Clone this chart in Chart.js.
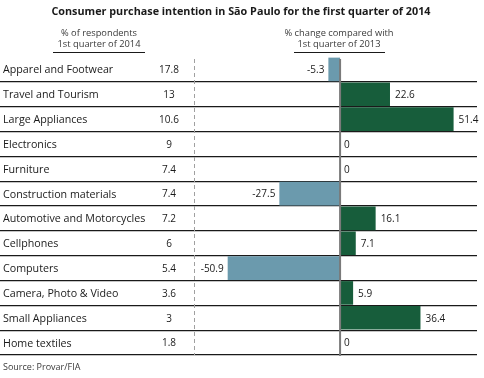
<!DOCTYPE html>
<html>
<head>
<meta charset="utf-8">
<script src="https://cdn.jsdelivr.net/npm/chart.js@4"></script>
<style>
html,body{margin:0;padding:0;background:#fff;}
#wrap{position:relative;width:484px;height:378px;}
</style>
</head>
<body>
<div id="wrap"><canvas id="c" width="484" height="378"></canvas></div>
<script>
const title = "Consumer purchase intention in São Paulo for the first quarter of 2014";
const leftHeader = ["% of respondents", "1st quarter of 2014"];
const rightHeader = ["% change compared with", "1st quarter of 2013"];
const source = "Source: Provar/FIA";
const categories = ["Apparel and Footwear","Travel and Tourism","Large Appliances","Electronics","Furniture","Construction materials","Automotive and Motorcycles","Cellphones","Computers","Camera, Photo & Video","Small Appliances","Home textiles"];
const respondents = ["17.8","13","10.6","9","7.4","7.4","7.2","6","5.4","3.6","3","1.8"];
const changes = [-5.3,22.6,51.4,0,0,-27.5,16.1,7.1,-50.9,5.9,36.4,0];
const dashedAt = -66;

const GREEN = "#175d3b", BLUE = "#6b9aad";
const FONT = "'Open Sans', sans-serif";

const overlay = {
  id: 'overlay',
  beforeDatasetsDraw(chart) {
    const ctx = chart.ctx, x = chart.scales.x, a = chart.chartArea;
    ctx.save();
    ctx.strokeStyle = '#a0a0a0';
    ctx.lineWidth = 1;
    ctx.setLineDash([4,3]);
    const dx = Math.round(x.getPixelForValue(dashedAt)) + 0.5;
    ctx.beginPath(); ctx.moveTo(dx, a.top + 2); ctx.lineTo(dx, a.bottom); ctx.stroke();
    ctx.restore();
  },
  afterDatasetsDraw(chart) {
    const ctx = chart.ctx, x = chart.scales.x, y = chart.scales.y, a = chart.chartArea;
    ctx.save();
    const zx = x.getPixelForValue(0);
    ctx.strokeStyle = '#7a7a7a';
    ctx.lineWidth = 2;
    ctx.beginPath(); ctx.moveTo(zx, a.top + 2); ctx.lineTo(zx, a.bottom + 1); ctx.stroke();

    ctx.textBaseline = 'middle';
    categories.forEach((c, i) => {
      const py = y.getPixelForValue(i) + 1;
      ctx.fillStyle = '#1a1a1a';
      ctx.font = "10.7px " + FONT;
      ctx.textAlign = 'left';
      ctx.fillText(c, 3, py);
      ctx.font = "10px " + FONT;
      ctx.textAlign = 'center';
      ctx.fillText(respondents[i], 169, py);
      const v = changes[i];
      const vx = x.getPixelForValue(v);
      if (v < 0) { ctx.textAlign = 'right'; ctx.fillText(String(v), vx - 4, py); }
      else if (v > 0) { ctx.textAlign = 'left'; ctx.fillText(String(v), vx + 5, py); }
      else { ctx.textAlign = 'left'; ctx.fillText('0', zx + 4, py); }
    });

    ctx.fillStyle = '#1a1a1a';
    ctx.textAlign = 'center';
    ctx.textBaseline = 'alphabetic';
    ctx.font = "bold 10.8px " + FONT;
    ctx.fillText(title, 241, 15);
    ctx.fillStyle = '#3a3a3a';
    ctx.font = "9.3px " + FONT;
    ctx.fillText(leftHeader[0], 99, 36);
    ctx.fillText(leftHeader[1], 99, 47);
    ctx.fillText(rightHeader[0], 339, 36);
    ctx.fillText(rightHeader[1], 339, 47);
    ctx.strokeStyle = '#1a1a1a';
    ctx.lineWidth = 1;
    ctx.beginPath();
    ctx.moveTo(53, 52.5); ctx.lineTo(145, 52.5);
    ctx.moveTo(294, 52.5); ctx.lineTo(385, 52.5);
    ctx.stroke();
    ctx.textAlign = 'left';
    ctx.font = "9px " + FONT;
    ctx.fillText(source, 3, 370);
    ctx.restore();
  }
};

new Chart(document.getElementById('c'), {
  type: 'bar',
  data: {
    labels: categories,
    datasets: [{
      data: changes,
      backgroundColor: changes.map(v => v < 0 ? BLUE : GREEN),
      borderWidth: 0,
      barPercentage: 0.95,
      categoryPercentage: 1
    }]
  },
  options: {
    indexAxis: 'y',
    responsive: false,
    animation: false,
    devicePixelRatio: 1,
    layout: { padding: { top: 57, bottom: 23, left: 0, right: 7 } },
    plugins: { legend: { display: false }, tooltip: { enabled: false } },
    scales: {
      x: {
        min: -154, max: 62,
        display: true,
        ticks: { display: false },
        grid: { display: false, drawTicks: false },
        border: { display: false },
        afterFit(s) { s.height = 0; }
      },
      y: {
        display: true,
        ticks: { display: false },
        grid: {
          offset: true,
          drawTicks: false,
          lineWidth: 1.3,
          color: ctx => ctx.index === 0 ? 'rgba(0,0,0,0)' : '#1a1a1a'
        },
        border: { display: false },
        afterFit(s) { s.width = 0; }
      }
    }
  },
  plugins: [overlay]
});
</script>
</body>
</html>
